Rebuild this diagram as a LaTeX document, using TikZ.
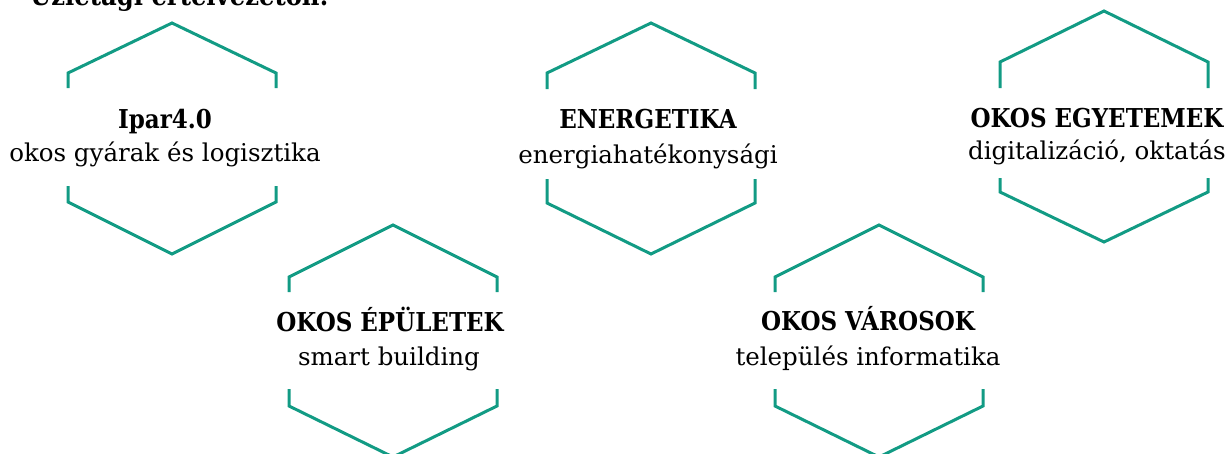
\documentclass[tikz,border=0pt]{standalone}
\usepackage{fontspec}
\setmainfont{DejaVu Serif}
\definecolor{hexteal}{RGB}{18,155,132}
\newcommand{\titletext}[1]{\scalebox{0.885}[1]{#1}}
\tikzset{
  hexline/.style={draw=hexteal, line width=3pt, line join=miter},
  title/.style={anchor=base, inner sep=0pt, font=\fontsize{26}{30}\selectfont\bfseries},
  sub/.style={anchor=base, inner sep=0pt, font=\fontsize{24.5}{29}\selectfont},
}
\newcommand{\hexdraw}[7]{%
  \draw[hexline] ({#1-104},#4) -- ({#1-104},#3) -- (#1,#2) -- ({#1+104},#3) -- ({#1+104},#4);
  \draw[hexline] ({#1-104},#5) -- ({#1-104},#6) -- (#1,#7) -- ({#1+104},#6) -- ({#1+104},#5);
}
\begin{document}
\begin{tikzpicture}[x=1pt,y=-1pt]
\useasboundingbox (0,0) rectangle (1227,453);
\node[anchor=base west, inner sep=0pt, font=\fontsize{27}{31}\selectfont\bfseries] (head) at (30,5) {\scalebox{0.9}[1]{Üzletági értelvezetőn:}};
\hexdraw{172}{23}{73}{88}{186}{202}{254}
\hexdraw{651}{23}{73}{89}{179}{203}{254}
\hexdraw{1104}{11}{62}{88}{178}{192}{242}
\hexdraw{393}{225}{277}{292}{389}{406}{457}
\hexdraw{879}{225}{277}{292}{389}{406}{457}
\node[title] (t1) at (165,128) {\titletext{Ipar4.0}};
\node[sub] (s1) at (165,161) {okos gyárak és logisztika};
\node[title] (t2) at (648,128) {\titletext{ENERGETIKA}};
\node[sub] (s2) at (648,163) {energiahatékonysági};
\node[title] (t3) at (1097,127) {\titletext{OKOS EGYETEMEK}};
\node[sub] (s3) at (1097,159) {digitalizáció, oktatás};
\node[title] (t4) at (390,331) {\titletext{OKOS ÉPÜLETEK}};
\node[sub] (s4) at (389,365) {smart building};
\node[title] (t5) at (868,330) {\titletext{OKOS VÁROSOK}};
\node[sub] (s5) at (868,365) {település informatika};
\end{tikzpicture}
\end{document}
